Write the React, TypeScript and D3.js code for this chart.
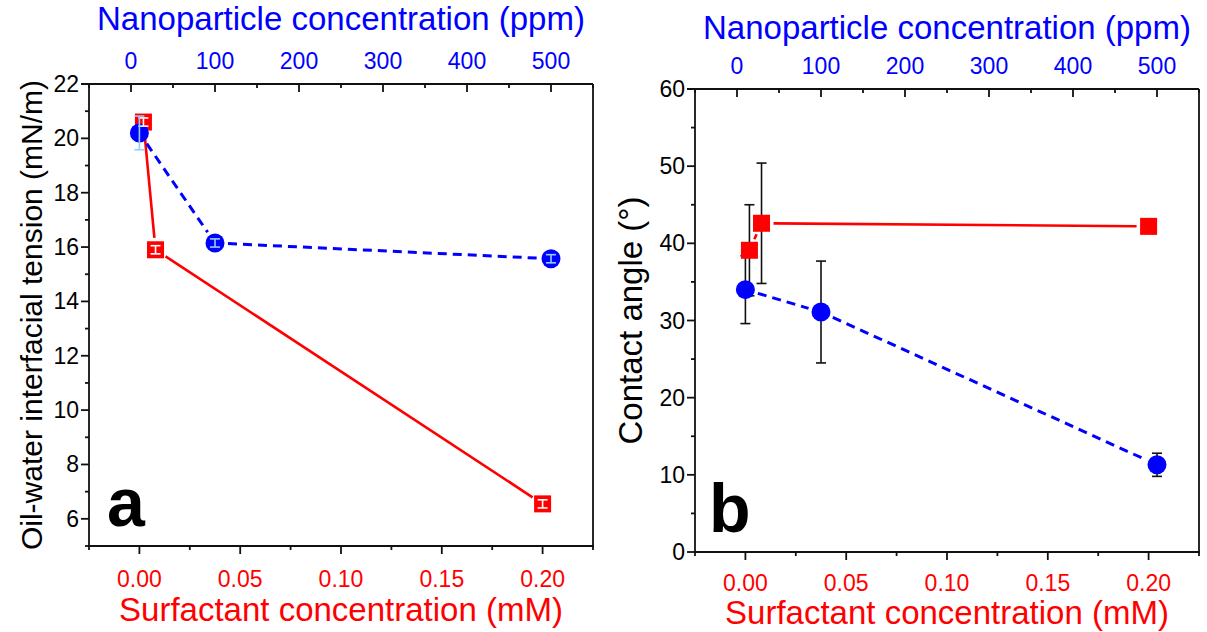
import * as d3 from "d3";

// panel a: oil-water interfacial tension
const surfConcA = [0.002, 0.008, 0.2];
const iftSurf = [20.6, 15.9, 6.55];
const iftSurfErr = [0.15, 0.15, 0.15];
const npConcA = [10, 100, 500];
const iftNp = [20.2, 16.15, 15.57];
const iftNpErr = [0.62, 0.15, 0.15];

// panel b: contact angle
const surfConcB = [0.002, 0.008, 0.2];
const caSurf = [39.1, 42.6, 42.2];
const caSurfErr = [5.9, 7.8, 0.8];
const npConcB = [10, 100, 500];
const caNp = [34.0, 31.1, 11.3];
const caNpErr = [4.4, 6.6, 1.5];

const surfTicks = [0, 0.05, 0.1, 0.15, 0.2];
const npTicks = [0, 100, 200, 300, 400, 500];
const iftTicks = [6, 8, 10, 12, 14, 16, 18, 20, 22];
const caTicks = [0, 10, 20, 30, 40, 50, 60];

const FONT = "'Liberation Sans', Arial, Helvetica, sans-serif";
const RED = "#ff0000";
const BLUE = "#0000ff";
const LIGHTBLUE = "#8fd0ff";

type Pt = { x: number; y: number; err: number };

function gapSegments(pts: [number, number][], gap: number) {
  const segs: string[] = [];
  for (let i = 0; i < pts.length - 1; i++) {
    const [x1, y1] = pts[i];
    const [x2, y2] = pts[i + 1];
    const len = Math.hypot(x2 - x1, y2 - y1);
    if (len <= gap * 2) continue;
    const ux = (x2 - x1) / len;
    const uy = (y2 - y1) / len;
    segs.push(`M${x1 + ux * gap},${y1 + uy * gap}L${x2 - ux * gap},${y2 - uy * gap}`);
  }
  return segs.join("");
}

function ErrBar({ px, y1, y2, color }: { px: number; y1: number; y2: number; color: string }) {
  return (
    <g stroke={color} strokeWidth={1.6}>
      <line x1={px} x2={px} y1={y1} y2={y2} />
      <line x1={px - 5} x2={px + 5} y1={y1} y2={y1} />
      <line x1={px - 5} x2={px + 5} y1={y2} y2={y2} />
    </g>
  );
}

function Panel({
  left,
  right,
  top,
  bottom,
  yDomain,
  yTicks,
  yMinorStep,
  yTitle,
  yTitleX,
  yTitleSize,
  letter,
  letterX,
  titleY,
  topTickY,
  bottomTickY,
  bottomTitleY,
  surf,
  np,
  innerErr,
}: {
  left: number;
  right: number;
  top: number;
  bottom: number;
  yDomain: [number, number];
  yTicks: number[];
  yMinorStep: number;
  yTitle: string;
  yTitleX: number;
  yTitleSize: number;
  letter: string;
  letterX: number;
  titleY: number;
  topTickY: number;
  bottomTickY: number;
  bottomTitleY: number;
  surf: Pt[];
  np: Pt[];
  innerErr: boolean;
}) {
  const x = d3.scaleLinear().domain([-0.025, 0.225]).range([left, right]);
  const xTop = d3.scaleLinear().domain([-50, 550]).range([left, right]);
  const y = d3.scaleLinear().domain(yDomain).range([bottom, top]);

  const surfMinor = d3.range(-0.025, 0.2251, 0.05);
  const npMinor = d3.range(-50, 551, 100);
  const yMinor = d3
    .range(Math.ceil(yDomain[0] / yMinorStep) * yMinorStep, yDomain[1] + 0.001, yMinorStep)
    .filter((v) => !yTicks.some((t) => Math.abs(t - v) < 1e-6));

  const surfPx: [number, number][] = surf.map((d) => [x(d.x), y(d.y)]);
  const npPx: [number, number][] = np.map((d) => [xTop(d.x), y(d.y)]);
  const cx = (left + right) / 2;
  const cy = (top + bottom) / 2;
  const sq = 17;
  const r = 9.5;

  return (
    <g fontFamily={FONT}>
      {/* frame and ticks */}
      <g stroke="#111" strokeWidth={1.8} fill="none">
        <line x1={left} x2={left} y1={top} y2={bottom} />
        <line x1={right} x2={right} y1={top} y2={bottom} />
        <line x1={left - 8} x2={right} y1={top} y2={top} />
        <line x1={left - 1} x2={right + 1} y1={bottom} y2={bottom} />
        {surfTicks.map((t) => (
          <line key={"b" + t} x1={x(t)} x2={x(t)} y1={bottom} y2={bottom + 8} />
        ))}
        {surfMinor.map((t) => (
          <line key={"bm" + t} x1={x(t)} x2={x(t)} y1={bottom} y2={bottom + 4} />
        ))}
        {npTicks.map((t) => (
          <line key={"t" + t} x1={xTop(t)} x2={xTop(t)} y1={top} y2={top + 8} />
        ))}
        {npMinor.map((t) => (
          <line key={"tm" + t} x1={xTop(t)} x2={xTop(t)} y1={top} y2={top + 4} />
        ))}
        {yTicks.map((t) => (
          <line key={"l" + t} x1={left - 8} x2={left} y1={y(t)} y2={y(t)} />
        ))}
        {yMinor.map((t) => (
          <line key={"lm" + t} x1={left - 4} x2={left} y1={y(t)} y2={y(t)} />
        ))}
      </g>

      {/* tick labels */}
      <g fontSize={23} textAnchor="middle" fill={RED}>
        {surfTicks.map((t) => (
          <text key={t} x={x(t)} y={bottomTickY}>
            {d3.format(".2f")(t)}
          </text>
        ))}
      </g>
      <g fontSize={23} textAnchor="middle" fill={BLUE}>
        {npTicks.map((t) => (
          <text key={t} x={xTop(t)} y={topTickY}>
            {t}
          </text>
        ))}
      </g>
      <g fontSize={23} textAnchor="end" fill="#000">
        {yTicks.map((t) => (
          <text key={t} x={left - 10} y={y(t) + 8}>
            {t}
          </text>
        ))}
      </g>

      {/* axis titles */}
      <text x={cx} y={titleY} fontSize={33} fill={BLUE} textAnchor="middle">
        Nanoparticle concentration (ppm)
      </text>
      <text x={cx} y={bottomTitleY} fontSize={33} fill={RED} textAnchor="middle">
        Surfactant concentration (mM)
      </text>
      <text
        transform={`translate(${yTitleX},${cy}) rotate(-90)`}
        fontSize={yTitleSize}
        fill="#000"
        textAnchor="middle"
      >
        {yTitle}
      </text>
      <text x={letterX} y={bottom - 20} fontSize={68} fontWeight="bold" fill="#000">
        {letter}
      </text>

      {/* connecting lines */}
      <path d={gapSegments(surfPx, 12)} stroke={RED} strokeWidth={2.6} fill="none" />
      <path d={gapSegments(npPx, 13)} stroke={BLUE} strokeWidth={3} strokeDasharray="9,6" fill="none" />

      {/* outer error bars (black) */}
      {!innerErr &&
        [...surf.map((d) => ({ px: x(d.x), d })), ...np.map((d) => ({ px: xTop(d.x), d }))].map(({ px, d }, i) => (
          <ErrBar key={"e" + i} px={px} y1={y(d.y + d.err)} y2={y(d.y - d.err)} color="#111" />
        ))}

      {/* markers */}
      {surf.map((d, i) => (
        <rect key={"s" + i} x={x(d.x) - sq / 2} y={y(d.y) - sq / 2} width={sq} height={sq} fill={RED} />
      ))}
      {np.map((d, i) => (
        <circle key={"c" + i} cx={xTop(d.x)} cy={y(d.y)} r={r} fill={BLUE} />
      ))}

      {/* error bars drawn over markers */}
      {innerErr &&
        surf.map((d, i) => (
          <ErrBar key={"se" + i} px={x(d.x)} y1={y(d.y + d.err)} y2={y(d.y - d.err)} color="#fff" />
        ))}
      {innerErr &&
        np.map((d, i) => (
          <ErrBar key={"ne" + i} px={xTop(d.x)} y1={y(d.y + d.err)} y2={y(d.y - d.err)} color={LIGHTBLUE} />
        ))}
    </g>
  );
}

export default function App() {
  const toPts = (xs: number[], ys: number[], es: number[]): Pt[] =>
    xs.map((v, i) => ({ x: v, y: ys[i], err: es[i] }));

  return (
    <svg width={1207} height={632} style={{ position: "absolute", left: 0, top: 0, background: "#fff" }}>
      <Panel
        left={89}
        right={593}
        top={84}
        bottom={546}
        yDomain={[5, 22]}
        yTicks={iftTicks}
        yMinorStep={1}
        yTitle="Oil-water interfacial tension (mN/m)"
        yTitleX={42}
        yTitleSize={30}
        letter="a"
        letterX={107}
        titleY={30}
        topTickY={69}
        bottomTickY={587}
        bottomTitleY={621}
        surf={toPts(surfConcA, iftSurf, iftSurfErr)}
        np={toPts(npConcA, iftNp, iftNpErr)}
        innerErr={true}
      />
      <Panel
        left={695}
        right={1199}
        top={89}
        bottom={552}
        yDomain={[0, 60]}
        yTicks={caTicks}
        yMinorStep={5}
        yTitle="Contact angle (°)"
        yTitleX={642}
        yTitleSize={33}
        letter="b"
        letterX={709}
        titleY={39}
        topTickY={74}
        bottomTickY={591}
        bottomTitleY={624}
        surf={toPts(surfConcB, caSurf, caSurfErr)}
        np={toPts(npConcB, caNp, caNpErr)}
        innerErr={false}
      />
    </svg>
  );
}
